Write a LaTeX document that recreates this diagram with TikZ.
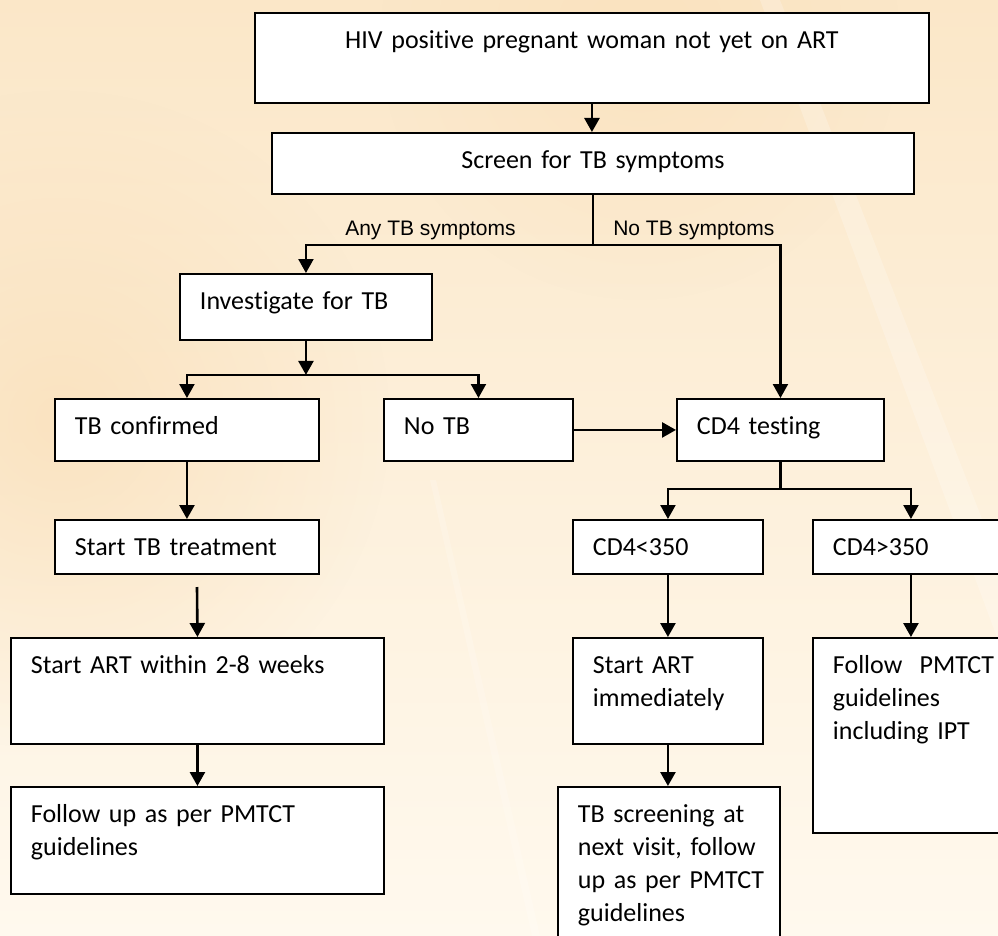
\documentclass[tikz,border=0pt]{standalone}
\usepackage{fontspec}
\setmainfont{Carlito}[Ligatures={NoCommon}]
\newfontfamily\tagfont{Liberation Sans}
\usetikzlibrary{arrows.meta,fadings}

\definecolor{bgwarm}{RGB}{251,231,200}
\definecolor{bgbase}{RGB}{253,240,220}
\definecolor{bglight}{RGB}{255,249,238}
\definecolor{bgglow}{RGB}{249,222,182}

\tikzfading[name=softglow,inner color=transparent!0,outer color=transparent!100]

\begin{document}
\begin{tikzpicture}[x=1pt,y=-1pt,->,>={Triangle[length=14pt,width=15pt]},line width=2.6pt,
                    box/.style={draw=black,line width=1.9pt,fill=white,anchor=north west,
                                align=left,inner xsep=20pt,inner ysep=0pt,text height=36pt},
                    tag/.style={font=\tagfont\fontsize{21pt}{25pt}\selectfont,anchor=base west,inner sep=0pt}]
\tikzset{font=\fontsize{26pt}{33pt}\selectfont}

  \useasboundingbox (0,0) rectangle (998,936);
  \clip (0,0) rectangle (998,936);
  \shade[top color=bgwarm,middle color=bgbase,bottom color=bglight] (0,0) rectangle (998,936);
  \fill[bgglow,path fading=softglow,opacity=0.7] (60,420) circle (330);
  \fill[bgglow,path fading=softglow,opacity=0.5] (640,40) circle (260);
  \fill[white,opacity=0.18] (430,480) -- (436,480) -- (540,936) -- (532,936) -- cycle;
  \fill[white,opacity=0.22] (760,0) -- (780,0) -- (998,560) -- (998,640) -- cycle;

        \node[box,align=center,text width=634pt,text depth=54pt]   (hiv)       at (254,12)  {HIV positive pregnant woman not yet on ART};
        \node[box,align=center,text width=602pt,text depth=25pt]   (screen)    at (271,132) {Screen for TB symptoms};
        \node[box,text width=212pt,text depth=30pt]                (invest)    at (179,273) {Investigate for TB};

        \node[box,text width=224pt,text depth=26pt]                (tbconf)    at (54,398)  {TB confirmed};
        \node[box,text width=149pt,text depth=26pt]                (notb)      at (383,398) {No TB};
        \node[box,text width=167pt,text depth=26pt]                (cdtest)    at (676,398) {CD4 testing};

        \node[box,text width=224pt,text depth=18pt]                (tbtreat)   at (54,519)  {Start TB treatment};
        \node[box,text width=333pt,text depth=70pt]                (artweeks)  at (10,637)  {Start ART within 2-8 weeks};
        \node[box,text width=333pt,text depth=71pt]                (followup)  at (10,786)  {Follow up as per PMTCT\\guidelines};

        \node[box,text width=150pt,text depth=18pt]                (cdlow)     at (572,519) {CD4<350};
        \node[box,text width=156pt,text depth=18pt]                (cdhigh)    at (812,519) {CD4>350};
        \node[box,text width=150pt,text depth=70pt]                (artnow)    at (572,637) {Start ART\\immediately};
        \node[box,text width=182pt,text depth=134pt]               (screening) at (557,786) {\mbox{TB screening at}\\\mbox{next visit, follow}\\\mbox{up as per PMTCT}\\\mbox{guidelines}};
        \node[box,text width=156pt,text depth=159pt]               (pmtct)     at (812,637) {\mbox{Follow~ PMTCT}\\guidelines\\\mbox{including IPT}};

        \node[tag] (anylbl) at (344,235) {Any TB symptoms};
        \node[tag] (nolbl)  at (612,235) {No TB symptoms};

        \coordinate (gap) at (197,587);

        \draw (hiv.south) -- (hiv.south |- screen.north);
        \draw[-,line width=2.2pt] (screen.south) -- ++(0,50) coordinate (fork1);
        \draw[line width=2.2pt] (fork1) -| (invest.north);
        \draw[line width=2.2pt] (fork1) -| (cdtest.north);

        \draw (invest.south) -- ++(0,34) coordinate (fork2);
        \draw[line width=2.2pt] (fork2) -| (tbconf.north);
        \draw[line width=2.2pt] (fork2) -| (notb.north);
        \draw (notb.east) -- (cdtest.west);

        \draw[-,line width=2.2pt] (cdtest.south) -- ++(0,27) coordinate (fork3);
        \draw[line width=2.2pt] (fork3) -| (cdlow.north);
        \draw[line width=2.2pt] (fork3) -| (cdhigh.north);

        \path[->]
        (tbconf)   edge node {} (tbtreat)
        (gap)      edge node {} (artweeks.north)
        (artweeks) edge node {} (followup)
        (cdlow)    edge node {} (artnow)
        (cdhigh)   edge node {} (pmtct)
        ; %end path
        \draw (artnow.south) -- (artnow.south |- screening.north);

\end{tikzpicture}
\end{document}
